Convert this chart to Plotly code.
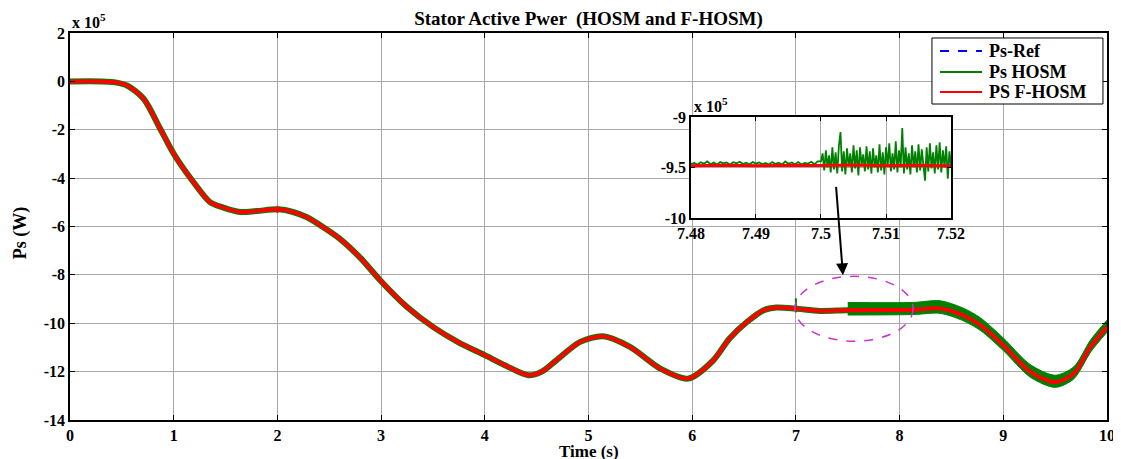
import plotly.graph_objects as go

# ---------------- data (units of 1e5 W) ----------------
t_key = [0, 0.3, 0.42, 0.55, 0.71, 0.87, 1.0, 1.19, 1.35, 1.48, 1.64, 1.8, 2.01, 2.15,
         2.28, 2.45, 2.6, 2.8, 2.99, 3.25, 3.5, 3.75, 4.0, 4.2, 4.42, 4.55, 4.69, 4.92,
         5.14, 5.40, 5.69, 5.96, 6.2, 6.36, 6.53, 6.69, 6.81, 6.99, 7.23, 7.5, 8.13,
         8.39, 8.61, 8.78, 9.0, 9.26, 9.5, 9.68, 9.84, 10.0]
ps_ref = [0, 0, -0.03, -0.17, -0.72, -1.96, -2.99, -4.16, -4.99, -5.22, -5.40, -5.36,
          -5.29, -5.40, -5.61, -6.05, -6.5, -7.3, -8.22, -9.33, -10.15, -10.8, -11.32,
          -11.75, -12.15, -12.0, -11.53, -10.77, -10.54, -10.98, -11.87, -12.29, -11.55,
          -10.63, -9.94, -9.46, -9.35, -9.39, -9.49, -9.46, -9.44, -9.39, -9.67, -10.08,
          -10.91, -12.01, -12.43, -12.08, -10.98, -10.15]

# HOSM chattering envelope after t = 7.5 s (offsets above / below the reference)
ripple_t = [7.5, 8.13, 8.39, 8.61, 8.78, 9.0, 9.26, 9.5, 9.68, 9.84, 10.0]
ripple_up = [0.32, 0.30, 0.32, 0.30, 0.30, 0.30, 0.30, 0.28, 0.28, 0.28, 0.28]
ripple_dn = [0.20, 0.20, 0.20, 0.22, 0.22, 0.22, 0.22, 0.22, 0.22, 0.22, 0.22]

# short transients
hosm_spike_t = [7.0, 7.0]
hosm_spike_v = [-8.97, -9.55]
fhosm_spike_t = [2.0, 2.0]
fhosm_spike_v = [-5.15, -5.44]

# zoom window 7.48 .. 7.52 s (sample instants)
t_zoom = ([round(7.48 + 0.0005 * i, 5) for i in range(40)] +
          [round(7.50 + 0.00025 * i, 5) for i in range(81)])
hosm_zoom = [-9.465, -9.455, -9.470, -9.448, -9.462, -9.440, -9.468, -9.452, -9.470, -9.445,
             -9.460, -9.450, -9.472, -9.448, -9.458, -9.443, -9.466, -9.452, -9.470, -9.446,
             -9.462, -9.450, -9.468, -9.455, -9.470, -9.447, -9.465, -9.452, -9.471, -9.440,
             -9.463, -9.450, -9.468, -9.446, -9.470, -9.455, -9.462, -9.444, -9.468, -9.440,
             -9.44, -9.36, -9.53, -9.33, -9.50, -9.38, -9.55, -9.30, -9.52, -9.35,
             -9.56, -9.29, -9.15, -9.54, -9.34, -9.57, -9.31, -9.49, -9.36, -9.55,
             -9.28, -9.51, -9.33, -9.58, -9.30, -9.48, -9.37, -9.54, -9.29, -9.52,
             -9.34, -9.56, -9.31, -9.50, -9.38, -9.55, -9.27, -9.53, -9.35, -9.57,
             -9.30, -9.49, -9.26, -9.54, -9.36, -9.52, -9.24, -9.55, -9.33, -9.50,
             -9.11, -9.56, -9.30, -9.52, -9.36, -9.57, -9.28, -9.50, -9.34, -9.55,
             -9.27, -9.53, -9.32, -9.49, -9.63, -9.30, -9.54, -9.26, -9.51, -9.35,
             -9.56, -9.28, -9.52, -9.25, -9.55, -9.33, -9.50, -9.29, -9.61, -9.34,
             -9.48]
t_zoom_f = [7.48, 7.485, 7.49, 7.495, 7.50, 7.505, 7.51, 7.515, 7.52]
fhosm_zoom = [-9.482, -9.478, -9.483, -9.477, -9.481, -9.476, -9.484, -9.479, -9.485]
ref_zoom = [-9.48] * len(t_zoom_f)

x_ticks = [0, 1, 2, 3, 4, 5, 6, 7, 8, 9, 10]
y_ticks = [2, 0, -2, -4, -6, -8, -10, -12, -14]
y_tick_text = ["2", "0", "-2", "-4", "-6", "-8", "-10", "-12", "-14"]
zx_ticks = [7.48, 7.49, 7.50, 7.51, 7.52]
zx_text = ["7.48", "7.49", "7.5", "7.51", "7.52"]
zy_ticks = [-10, -9.5, -9]
zy_text = ["-10", "-9.5", "-9"]

legend_names = ["Ps-Ref", "Ps HOSM", "PS F-HOSM"]

# ---------------- figure ----------------
FONT = "Liberation Serif"
GREEN = "#008000"
RED = "#ff0000"
BLUE = "#0000ff"
GRID = "#a8a8a8"
SM = 0.8

ref_at = dict(zip(t_key, ps_ref))
band_up = [ref_at[t] + u for t, u in zip(ripple_t, ripple_up)]
band_dn = [ref_at[t] - d for t, d in zip(ripple_t, ripple_dn)]

fig = go.Figure()

# HOSM (green) main
fig.add_trace(go.Scatter(x=t_key, y=ps_ref, mode="lines", name="Ps HOSM",
                         line=dict(color=GREEN, width=6, shape="spline", smoothing=SM),
                         showlegend=False, hoverinfo="skip"))
fig.add_trace(go.Scatter(x=ripple_t, y=band_up, mode="lines",
                         line=dict(color=GREEN, width=1, shape="spline", smoothing=SM),
                         showlegend=False, hoverinfo="skip"))
fig.add_trace(go.Scatter(x=ripple_t, y=band_dn, mode="lines",
                         line=dict(color=GREEN, width=1, shape="spline", smoothing=SM),
                         fill="tonexty", fillcolor=GREEN, showlegend=False, hoverinfo="skip"))
fig.add_trace(go.Scatter(x=hosm_spike_t, y=hosm_spike_v, mode="lines", line=dict(color=GREEN, width=2),
                         showlegend=False, hoverinfo="skip"))
# reference (blue dashed)
fig.add_trace(go.Scatter(x=t_key, y=ps_ref, mode="lines", name="Ps-Ref",
                         line=dict(color=BLUE, width=1.5, dash="dash", shape="spline", smoothing=SM),
                         showlegend=False, hoverinfo="skip"))
# F-HOSM (red)
fig.add_trace(go.Scatter(x=t_key, y=ps_ref, mode="lines", name="PS F-HOSM",
                         line=dict(color=RED, width=4, shape="spline", smoothing=SM),
                         showlegend=False, hoverinfo="skip"))
fig.add_trace(go.Scatter(x=fhosm_spike_t, y=fhosm_spike_v, mode="lines", line=dict(color=RED, width=2),
                         showlegend=False, hoverinfo="skip"))

# inset traces
fig.add_trace(go.Scatter(x=t_zoom, y=hosm_zoom, mode="lines", line=dict(color=GREEN, width=1.8),
                         xaxis="x2", yaxis="y2", showlegend=False, hoverinfo="skip"))
fig.add_trace(go.Scatter(x=t_zoom_f, y=ref_zoom, mode="lines", line=dict(color=BLUE, width=1.5, dash="dash"),
                         xaxis="x2", yaxis="y2", showlegend=False, hoverinfo="skip"))
fig.add_trace(go.Scatter(x=t_zoom_f, y=fhosm_zoom, mode="lines", line=dict(color=RED, width=3),
                         xaxis="x2", yaxis="y2", showlegend=False, hoverinfo="skip"))

tickfont = dict(family=FONT, size=16, color="black", weight="bold")
axis_common = dict(showgrid=True, gridcolor=GRID, gridwidth=1, zeroline=False,
                   showline=True, linecolor="black", linewidth=1.5, mirror="ticks",
                   ticks="inside", tickcolor="black", tickfont=tickfont, automargin=False)

# page body adds an 8 px offset; margins compensate so the plot box sits at 70..1107 x 33..420
fig.update_layout(
    width=1121, height=459,
    margin=dict(l=62, r=22, t=25, b=47, autoexpand=False),
    paper_bgcolor="white", plot_bgcolor="white",
    title=dict(text="<b>Stator Active Pwer  (HOSM and F-HOSM)</b>", x=0.5, xref="paper",
               y=1 - 10 / 459, yanchor="middle", font=dict(family=FONT, size=19, color="black")),
    font=dict(family=FONT, color="black"),
    showlegend=False,
    xaxis=dict(range=[0, 10], tickvals=x_ticks, ticktext=[f"<b>{v}</b>" for v in x_ticks],
               ticklen=5, **axis_common),
    yaxis=dict(range=[-14, 2], tickvals=y_ticks, ticktext=[f"<b>{s}</b>" for s in y_tick_text],
               ticklen=5, **axis_common),
    xaxis2=dict(domain=[0.5988, 0.8496], anchor="y2", range=[7.48, 7.52], tickvals=zx_ticks,
                ticktext=[f"<b>{s}</b>" for s in zx_text], ticklen=4, **axis_common),
    yaxis2=dict(domain=[0.522, 0.783], anchor="x2", range=[-10, -9], tickvals=zy_ticks,
                ticktext=[f"<b>{s}</b>" for s in zy_text], ticklen=4, **axis_common),
)

# zoom ellipse
fig.add_shape(type="circle", xref="x", yref="y", x0=6.99, x1=8.13, y0=-10.74, y1=-8.06,
              line=dict(color="#cc33cc", width=1.5, dash="dash"))

# legend box (drawn by hand to match the compact MATLAB legend)
fig.add_shape(type="rect", xref="paper", yref="paper", x0=0.8312, x1=0.9961, y0=0.8165, y1=0.9871,
              line=dict(color="black", width=1), fillcolor="white", layer="above")
legend_styles = [dict(color=BLUE, width=2, dash="dash"), dict(color=GREEN, width=2), dict(color=RED, width=2)]
legend_rows = [0.9535, 0.8992, 0.8475]
for name, sty, yy in zip(legend_names, legend_styles, legend_rows):
    fig.add_shape(type="line", xref="paper", yref="paper", x0=0.839, x1=0.8795, y0=yy, y1=yy,
                  line=sty, layer="above")
    fig.add_annotation(text=f"<b>{name}</b>", xref="paper", yref="paper", x=0.8843, y=yy,
                       xanchor="left", yanchor="middle", showarrow=False,
                       font=dict(family=FONT, size=18, color="black"))

annotations = [
    dict(text="<b>x 10<sup>5</sup></b>", xref="paper", yref="paper", x=0.0, y=1.0, xanchor="left",
         yanchor="bottom", showarrow=False, font=dict(family=FONT, size=16)),
    dict(text="<b>x 10<sup>5</sup></b>", xref="paper", yref="paper", x=0.5998, y=0.783, xanchor="left",
         yanchor="bottom", showarrow=False, font=dict(family=FONT, size=16)),
    dict(text="<b>Time (s)</b>", xref="paper", yref="paper", x=0.5, y=-0.081, xanchor="center",
         yanchor="middle", showarrow=False, font=dict(family=FONT, size=17)),
    dict(text="<b>Ps (W)</b>", xref="paper", yref="paper", x=-0.048, y=0.483, xanchor="center",
         yanchor="middle", showarrow=False, textangle=-90, font=dict(family=FONT, size=18)),
    dict(text="", xref="x", yref="y", x=7.454, y=-8.02, ax=-7, ay=-90, axref="pixel", ayref="pixel",
         showarrow=True, arrowhead=2, arrowsize=1.2, arrowwidth=2, arrowcolor="black"),
]
for a in annotations:
    fig.add_annotation(**a)

fig.write_html("out.html")
